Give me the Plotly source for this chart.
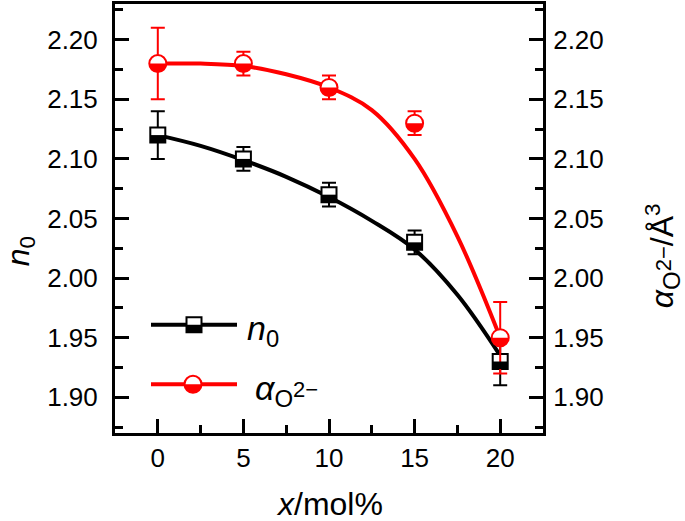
import numpy as np
import plotly.graph_objects as go

# ---- data ----
x_mol = [0, 5, 10, 15, 20]
n0 = [2.12, 2.10, 2.07, 2.03, 1.93]
n0_err = [0.02, 0.01, 0.01, 0.01, 0.02]
alpha = [2.18, 2.18, 2.16, 2.13, 1.95]
alpha_err = [0.03, 0.01, 0.01, 0.01, 0.03]
fit_x = [0, 2.5, 5, 7.5, 10, 12.5, 15, 17.5, 20]
n0_fit = [2.120, 2.111, 2.099, 2.085, 2.068, 2.048, 2.024, 1.986, 1.935]
alpha_fit = [2.180, 2.180, 2.178, 2.171, 2.160, 2.141, 2.100, 2.035, 1.950]
x_ticks = [0, 5, 10, 15, 20]
y_ticks = [1.90, 1.95, 2.00, 2.05, 2.10, 2.15, 2.20]

RED = "#ff0000"
BLK = "#000000"
FONT = "Liberation Sans, Arial, sans-serif"

# plot-area pixel geometry (for manual legend / titles)
L, R, T, B = 115, 543, 1, 433
W, H = 685, 521
def px(xp):
    return (xp - L) / (R - L)
def py(yp):
    return (B - yp) / (B - T)

SQ = 15      # square marker size
CI = 17      # circle marker size

fig = go.Figure()

fig.add_trace(go.Scatter(x=fit_x, y=alpha_fit, mode="lines", line=dict(color=RED, width=4, shape="spline"),
                         yaxis="y2", showlegend=False, hoverinfo="skip"))
fig.add_trace(go.Scatter(x=x_mol, y=alpha, mode="markers", yaxis="y2",
                         marker=dict(symbol="circle", size=CI, color="white", line=dict(color=RED, width=2)),
                         error_y=dict(type="data", array=alpha_err, color=RED, thickness=2, width=7),
                         showlegend=False))
fig.add_trace(go.Scatter(x=fit_x, y=n0_fit, mode="lines", line=dict(color=BLK, width=4, shape="spline"),
                         showlegend=False, hoverinfo="skip"))
fig.add_trace(go.Scatter(x=x_mol, y=n0, mode="markers",
                         marker=dict(symbol="square", size=SQ, color="white", line=dict(color=BLK, width=2)),
                         error_y=dict(type="data", array=n0_err, color=BLK, thickness=2, width=7),
                         showlegend=False))

def half_circle_path(r):
    th = np.linspace(np.pi, 2 * np.pi, 25)
    pts = [f"{r*np.cos(t):.2f},{r*np.sin(t):.2f}" for t in th]
    return "M " + " L ".join(pts) + " Z"

shapes = []
for xi, yi in zip(x_mol, alpha):
    shapes.append(dict(type="path", xref="x", yref="y2", xsizemode="pixel", ysizemode="pixel",
                       xanchor=xi, yanchor=yi, path=half_circle_path(CI / 2),
                       fillcolor=RED, line=dict(width=0), layer="above"))
for xi, yi in zip(x_mol, n0):
    shapes.append(dict(type="rect", xref="x", yref="y", xsizemode="pixel", ysizemode="pixel",
                       xanchor=xi, yanchor=yi, x0=-SQ / 2, x1=SQ / 2, y0=-SQ / 2, y1=0,
                       fillcolor=BLK, line=dict(width=0), layer="above"))

# manual legend
ly1, ly2 = py(324), py(384)
shapes.append(dict(type="line", xref="paper", yref="paper", x0=px(151), x1=px(237), y0=ly1, y1=ly1,
                   line=dict(color=BLK, width=4), layer="above"))
shapes.append(dict(type="rect", xref="paper", yref="paper", xsizemode="pixel", ysizemode="pixel",
                   xanchor=px(194), yanchor=ly1, x0=-SQ / 2, x1=SQ / 2, y0=-SQ / 2, y1=SQ / 2,
                   fillcolor="white", line=dict(color=BLK, width=2), layer="above"))
shapes.append(dict(type="rect", xref="paper", yref="paper", xsizemode="pixel", ysizemode="pixel",
                   xanchor=px(194), yanchor=ly1, x0=-SQ / 2, x1=SQ / 2, y0=-SQ / 2, y1=0,
                   fillcolor=BLK, line=dict(width=0), layer="above"))
shapes.append(dict(type="line", xref="paper", yref="paper", x0=px(151), x1=px(237), y0=ly2, y1=ly2,
                   line=dict(color=RED, width=4), layer="above"))
shapes.append(dict(type="circle", xref="paper", yref="paper", xsizemode="pixel", ysizemode="pixel",
                   xanchor=px(193), yanchor=ly2, x0=-CI / 2, x1=CI / 2, y0=-CI / 2, y1=CI / 2,
                   fillcolor="white", line=dict(color=RED, width=2), layer="above"))
shapes.append(dict(type="path", xref="paper", yref="paper", xsizemode="pixel", ysizemode="pixel",
                   xanchor=px(193), yanchor=ly2, path=half_circle_path(CI / 2),
                   fillcolor=RED, line=dict(width=0), layer="above"))

alpha_lbl = ("<i>α</i><sub><span style='font-size:24px'>O</span>"
             "<sup><span style='font-size:22px'>2−</span></sup></sub>")

annotations = [
    dict(text="<i>x</i>/mol%", xref="paper", yref="paper", x=px(329), y=py(504), showarrow=False,
         xanchor="center", yanchor="middle", font=dict(size=32, family=FONT, color=BLK)),
    dict(text="<i>n</i><sub>0</sub>", xref="paper", yref="paper", x=px(20), y=py(250), showarrow=False,
         textangle=-90, xanchor="center", yanchor="middle", font=dict(size=32, family=FONT, color=BLK)),
    dict(text=alpha_lbl + "/Å<sup>3</sup>", xref="paper", yref="paper", x=px(662), y=py(255),
         showarrow=False, textangle=-90, xanchor="center", yanchor="middle",
         font=dict(size=32, family=FONT, color=BLK)),
    dict(text="<i>n</i><sub>0</sub>", xref="paper", yref="paper", x=px(245), y=py(330), showarrow=False,
         xanchor="left", yanchor="middle", font=dict(size=34, family=FONT, color=BLK)),
    dict(text=alpha_lbl, xref="paper", yref="paper", x=px(253), y=py(390), showarrow=False,
         xanchor="left", yanchor="middle", font=dict(size=34, family=FONT, color=BLK)),
]

axis_common = dict(showgrid=False, zeroline=False, showline=True, linecolor=BLK, linewidth=3,
                   ticks="inside", ticklen=14, tickwidth=2.5, tickcolor=BLK,
                   tickfont=dict(size=26, family=FONT, color=BLK))

fig.update_layout(
    width=W, height=H,
    margin=dict(l=L, r=W - R, t=T, b=H - B),
    paper_bgcolor="white", plot_bgcolor="white",
    showlegend=False,
    xaxis=dict(range=[-2.5, 22.5], tickvals=x_ticks, mirror=True, ticklabelstandoff=0,
               minor=dict(dtick=2.5, tick0=0, ticklen=8, tickwidth=2.5, ticks="inside", tickcolor=BLK),
               **axis_common),
    yaxis=dict(range=[1.87, 2.23], tickvals=y_ticks, tickformat=".2f", ticklabelstandoff=9,
               minor=dict(dtick=0.025, tick0=1.9, ticklen=8, tickwidth=2.5, ticks="inside", tickcolor=BLK),
               **axis_common),
    yaxis2=dict(range=[1.87, 2.23], tickvals=y_ticks, tickformat=".2f", overlaying="y", side="right",
                ticklabelstandoff=2,
                minor=dict(dtick=0.025, tick0=1.9, ticklen=8, tickwidth=2.5, ticks="inside", tickcolor=BLK),
                **axis_common),
    shapes=shapes,
    annotations=annotations,
)

fig.write_html("out.html", config={"displayModeBar": False},
               post_script="document.body.style.margin='0';")
